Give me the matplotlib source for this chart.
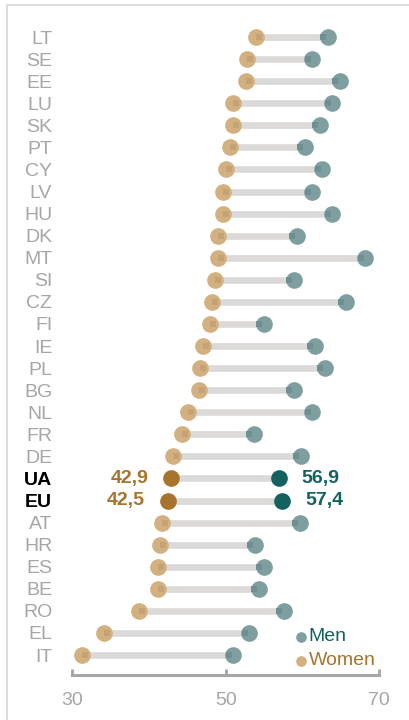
import matplotlib
matplotlib.use("Agg")
import matplotlib.pyplot as plt
from matplotlib.lines import Line2D

plt.rcParams['font.family'] = ['Liberation Sans', 'DejaVu Sans']

countries = ["LT", "SE", "EE", "LU", "SK", "PT", "CY", "LV", "HU", "DK",
             "MT", "SI", "CZ", "FI", "IE", "PL", "BG", "NL", "FR", "DE",
             "UA", "EU", "AT", "HR", "ES", "BE", "RO", "EL", "IT"]
women = [54.0, 52.8, 52.6, 51.0, 50.9, 50.6, 50.1, 49.7, 49.6, 49.0,
         49.0, 48.6, 48.2, 47.9, 47.0, 46.6, 46.5, 45.1, 44.3, 43.1,
         42.9, 42.5, 41.7, 41.4, 41.2, 41.2, 38.7, 34.1, 31.3]
men = [63.3, 61.3, 64.9, 63.9, 62.3, 60.3, 62.6, 61.3, 63.9, 59.3,
       68.2, 58.9, 65.7, 55.0, 61.6, 62.9, 58.9, 61.3, 53.7, 59.8,
       56.9, 57.4, 59.7, 53.8, 55.0, 54.3, 57.6, 53.1, 51.0]
highlight = ["UA", "EU"]

MEN_C, WOMEN_C = "#7f9ea0", "#d3b07f"
MEN_SQ, WOMEN_SQ = "#6f9092", "#c4a274"
MEN_DARK, WOMEN_DARK = "#14625f", "#a8742c"
BAR_C = "#dcdad8"
GREY = "#a6a6a6"
FS = 14

W, H = 410, 720
fig = plt.figure(figsize=(W / 100, H / 100), dpi=100)
ax = fig.add_axes([72.3 / W, 45 / H, 306.7 / W, 660 / H])

ys = list(range(len(countries)))
for y, c, w, m in zip(ys, countries, women, men):
    hl = c in highlight
    ax.plot([w, m], [y, y], color=BAR_C, lw=4.8, solid_capstyle="butt", zorder=1)
    ax.plot(w, y, "o", ms=12, mew=0, color=WOMEN_DARK if hl else WOMEN_C, zorder=3)
    ax.plot(m, y, "o", ms=12, mew=0, color=MEN_DARK if hl else MEN_C, zorder=3)
    if hl:
        ax.annotate(f"{w:.1f}".replace(".", ","), (w, y), xytext=(-16.5, 0),
                    textcoords="offset points", ha="right", va="center",
                    fontsize=FS, fontweight="bold", color=WOMEN_DARK)
        ax.annotate(f"{m:.1f}".replace(".", ","), (m, y), xytext=(16.5, 0),
                    textcoords="offset points", ha="left", va="center",
                    fontsize=FS, fontweight="bold", color=MEN_DARK)
    else:
        ax.plot(w + 0.4, y, "s", ms=4.5, mew=0, color=WOMEN_SQ, zorder=4)
        ax.plot(m - 0.6, y, "s", ms=4.5, mew=0, color=MEN_SQ, zorder=4)

ax.set_xlim(30, 70)
ax.set_ylim(28.906, -1.0)
ax.set_xticks([30, 50, 70])
ax.set_yticks(ys)
ax.set_yticklabels(countries, fontsize=FS)
for lab in ax.get_yticklabels():
    if lab.get_text() in highlight:
        lab.set_color("black")
        lab.set_fontweight("bold")
    else:
        lab.set_color(GREY)

ax.tick_params(axis="y", length=0, pad=14.5)
ax.tick_params(axis="x", direction="in", length=4, width=2, color=GREY,
               labelcolor=GREY, labelsize=FS, pad=12)
for side in ["top", "right", "left"]:
    ax.spines[side].set_visible(False)
ax.spines["bottom"].set_color(GREY)
ax.spines["bottom"].set_linewidth(2.2)

# legend
ax.scatter([0.745], [0.058], s=44, color=MEN_C, transform=ax.transAxes, clip_on=False)
ax.scatter([0.745], [0.0217], s=44, color=WOMEN_C, transform=ax.transAxes, clip_on=False)
ax.text(0.77, 0.058, "Men", color=MEN_DARK, fontsize=FS, va="center",
        transform=ax.transAxes)
ax.text(0.77, 0.0217, "Women", color=WOMEN_DARK, fontsize=FS, va="center",
        transform=ax.transAxes)

# frame (top and left edges)
fig.add_artist(Line2D([7.5 / W, 7.5 / W], [0, 1 - 5 / H], color="#dddddd", lw=1.5))
fig.add_artist(Line2D([7.5 / W, 1], [1 - 5 / H, 1 - 5 / H], color="#dddddd", lw=1.5))

fig.savefig("out.png", dpi=100)
